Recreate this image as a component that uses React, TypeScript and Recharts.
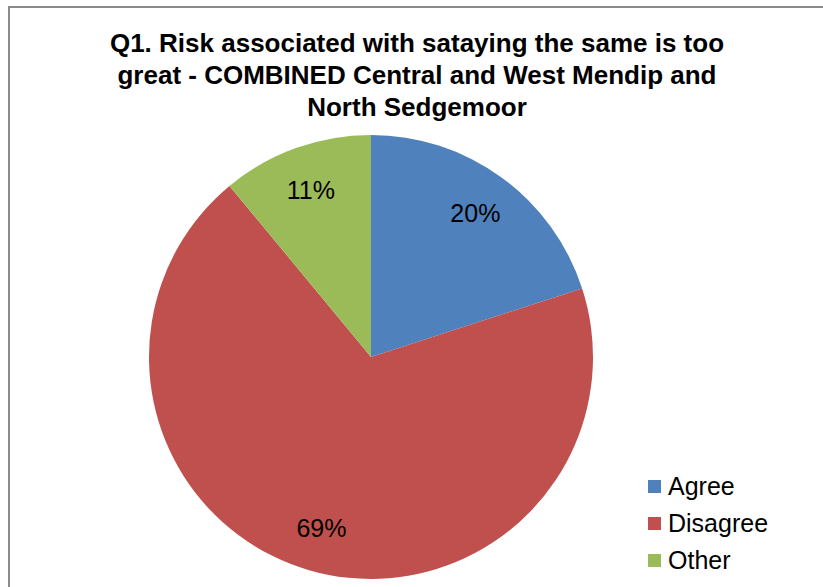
import React from "react";
import { PieChart, Pie, Cell, Legend } from "recharts";

const categories = ["Agree", "Disagree", "Other"];
const values = [20, 69, 11];
const colors = ["#4F81BD", "#C0504D", "#9BBB59"];
const titleLines = [
  "Q1. Risk associated with sataying the same is too",
  "great - COMBINED Central and West Mendip and",
  "North Sedgemoor",
];

const data = categories.map((name, i) => ({ name, value: values[i] }));
const FONT = '"Liberation Sans", Arial, sans-serif';
const RADIAN = Math.PI / 180;

const renderLabel = (props: any) => {
  const { cx, cy, midAngle, outerRadius, percent } = props;
  const r = outerRadius * 0.8;
  const x = cx + r * Math.cos(-midAngle * RADIAN);
  const y = cy + r * Math.sin(-midAngle * RADIAN);
  return (
    <text
      x={x}
      y={y}
      fill="#000"
      textAnchor="middle"
      dominantBaseline="central"
      style={{ fontFamily: FONT, fontSize: 25 }}
    >
      {`${Math.round(percent * 100)}%`}
    </text>
  );
};

const renderLegend = (props: any) => {
  const { payload } = props;
  return (
    <div style={{ fontFamily: FONT, fontSize: 25, color: "#000" }}>
      {payload.map((entry: any, i: number) => (
        <div
          key={i}
          style={{ display: "flex", alignItems: "center", height: 37, lineHeight: "37px" }}
        >
          <div
            style={{ width: 13, height: 13, background: entry.color, marginRight: 7 }}
          />
          <span>{entry.value}</span>
        </div>
      ))}
    </div>
  );
};

export default function App() {
  return (
    <div
      style={{
        position: "absolute",
        left: 0,
        top: 0,
        width: 823,
        height: 587,
        overflow: "hidden",
        background: "#fff",
      }}
    >
      <div
        style={{
          position: "absolute",
          left: 8,
          top: 6,
          width: 840,
          height: 620,
          borderLeft: "2px solid #8a8a8a",
          borderTop: "2px solid #8a8a8a",
        }}
      />
      <div
        style={{
          position: "absolute",
          left: 0,
          top: 0,
          width: 834,
          textAlign: "center",
          fontFamily: FONT,
          fontWeight: "bold",
          fontSize: 26,
          lineHeight: "32px",
          paddingTop: 27,
          color: "#000",
        }}
      >
        {titleLines.map((t, i) => (
          <div key={i}>{t}</div>
        ))}
      </div>
      <div style={{ position: "absolute", left: 0, top: 0 }}>
        <PieChart width={823} height={587} margin={{ top: 0, right: 0, bottom: 0, left: 0 }}>
          <Pie
            data={data}
            dataKey="value"
            nameKey="name"
            cx={371}
            cy={357}
            outerRadius={222}
            startAngle={90}
            endAngle={-270}
            stroke="none"
            label={renderLabel}
            labelLine={false}
            isAnimationActive={false}
          >
            {data.map((d, i) => (
              <Cell key={d.name} fill={colors[i]} />
            ))}
          </Pie>
          <Legend
            content={renderLegend}
            wrapperStyle={{ position: "absolute", left: 648, top: 468, width: 160 }}
          />
        </PieChart>
      </div>
    </div>
  );
}
